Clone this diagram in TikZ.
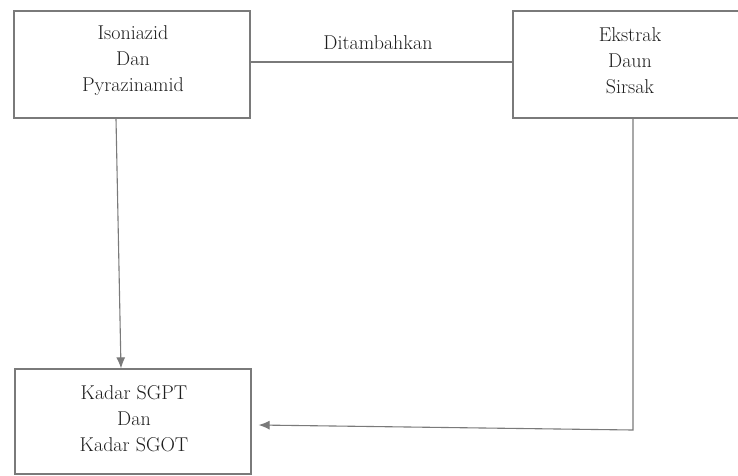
\documentclass[tikz,border=0pt]{standalone}
\usetikzlibrary{arrows.meta}
\definecolor{linec}{HTML}{7A7A7A}
\definecolor{textc}{HTML}{1E1E1E}
\begin{document}
\begin{tikzpicture}[x=1pt,y=-1pt,
  boxnode/.style={draw=linec, line width=1.2pt, fill=white, inner sep=0pt},
  txt/.style={align=center, font=\fontsize{20}{26}\selectfont, text=textc, inner sep=0pt},
  conn/.style={draw=linec, line width=1.1pt},
  arr/.style={conn, -{Latex[length=11pt,width=9pt]}}]
\useasboundingbox (0,0) rectangle (738,475);
\fill[white] (0,0) rectangle (738,475);
\node[boxnode, minimum width=236pt, minimum height=107pt] (b1) at (132,64.5) {};
\node[boxnode, minimum width=232pt, minimum height=107pt] (b2) at (629,64.5) {};
\node[boxnode, minimum width=236pt, minimum height=105pt] (b3) at (133,421.5) {};
\node[txt] (t1) at (133,61) {Isoniazid\\Dan\\Pyrazinamid};
\node[txt] (t2) at (630,61) {Ekstrak\\Daun\\Sirsak};
\node[txt] (t3) at (134,419) {Kadar SGPT\\Dan\\Kadar SGOT};
\draw[conn] ([yshift=2.5pt]b1.east) -- ([yshift=2.5pt]b2.west);
\node[txt] (lbl) at (378,43) {Ditambahkan};
\draw[arr] ([xshift=-16pt]b1.south) -- ([xshift=-12pt]b3.north);
\coordinate (corner) at (633,430);
\draw[arr] ([xshift=4pt]b2.south) -- (corner) -- ([xshift=7pt,yshift=-3.5pt]b3.east);
\end{tikzpicture}
\end{document}
